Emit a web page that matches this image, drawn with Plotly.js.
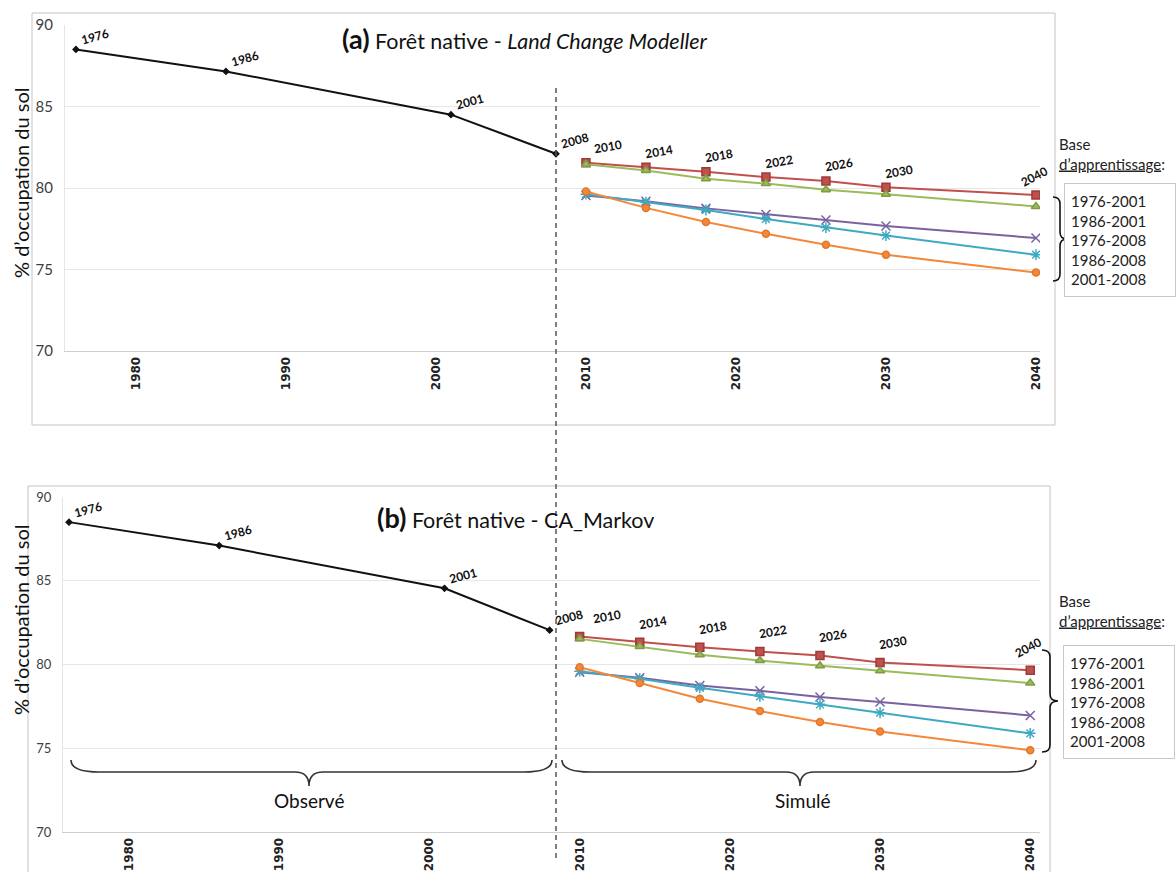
<!DOCTYPE html>
<html>
<head>
<meta charset="utf-8">
<script src="https://cdn.plot.ly/plotly-3.0.1.min.js"></script>
<style>html,body{margin:0;padding:0;background:#fff;}#chart{width:1176px;height:872px;}</style>
</head>
<body>
<div id="chart"></div>
<script>
// ---------------- DATA ----------------
const obsYears = [1976, 1986, 2001, 2008];
const obsA = [88.5, 87.15, 84.5, 82.1];
const obsB = [88.5, 87.1, 84.55, 82.05];

const simYears = [2010, 2014, 2018, 2022, 2026, 2030, 2040];
const seriesNames = ['1976-2001', '1986-2001', '1976-2008', '1986-2008', '2001-2008'];

// Panel (a) – Land Change Modeller
const lcm_1976_2001 = [81.55, 81.28, 81.0, 80.67, 80.43, 80.04, 79.57];
const lcm_1986_2001 = [81.46, 81.08, 80.57, 80.27, 79.9, 79.62, 78.87];
const lcm_1976_2008 = [79.54, 79.19, 78.75, 78.38, 78.04, 77.67, 76.93];
const lcm_1986_2008 = [79.62, 79.13, 78.65, 78.1, 77.57, 77.08, 75.91];
const lcm_2001_2008 = [79.78, 78.78, 77.92, 77.19, 76.52, 75.91, 74.81];

// Panel (b) – CA_Markov
const cam_1976_2001 = [81.67, 81.33, 81.03, 80.77, 80.54, 80.12, 79.66];
const cam_1986_2001 = [81.53, 81.07, 80.58, 80.24, 79.92, 79.62, 78.89];
const cam_1976_2008 = [79.54, 79.21, 78.75, 78.43, 78.06, 77.76, 76.96];
const cam_1986_2008 = [79.6, 79.15, 78.61, 78.1, 77.62, 77.12, 75.89];
const cam_2001_2008 = [79.84, 78.89, 77.96, 77.22, 76.57, 76.0, 74.88];

const xTickVals = [1980, 1990, 2000, 2010, 2020, 2030, 2040];
const yTickVals = [70, 75, 80, 85, 90];

// ---------------- STYLE ----------------
const W = 1176, H = 872;
const px = x => x / W;
const py = y => 1 - y / H;

const seriesStyles = [
  {color: '#C0504D', symbol: 'square', size: 8, mline: '#9c3b38'},
  {color: '#9BBB59', symbol: 'triangle-up', size: 8, mline: '#7f9c45'},
  {color: '#7a62a0', symbol: 'x-thin-open', size: 9, mline: '#7a62a0'},
  {color: '#3fa9c2', symbol: 'asterisk-open', size: 9, mline: '#3fa9c2'},
  {color: '#F4883A', symbol: 'circle', size: 7, mline: '#e0782c'}
];

const simA = [lcm_1976_2001, lcm_1986_2001, lcm_1976_2008, lcm_1986_2008, lcm_2001_2008];
const simB = [cam_1976_2001, cam_1986_2001, cam_1976_2008, cam_1986_2008, cam_2001_2008];

const traces = [];
function addPanel(obs, sims, xa, ya) {
  traces.push({
    x: obsYears, y: obs, xaxis: xa, yaxis: ya, type: 'scatter', mode: 'lines+markers',
    line: {color: '#111', width: 2}, marker: {symbol: 'diamond', size: 6, color: '#111'},
    showlegend: false
  });
  sims.forEach((vals, i) => {
    const s = seriesStyles[i];
    traces.push({
      x: simYears, y: vals, xaxis: xa, yaxis: ya, type: 'scatter', mode: 'lines+markers',
      name: seriesNames[i],
      line: {color: s.color, width: 2},
      marker: {symbol: s.symbol, size: s.size, color: s.color, line: {color: s.mline, width: 1.5}},
      showlegend: false
    });
  });
}
addPanel(obsA, simA, 'x', 'y');
addPanel(obsB, simB, 'x2', 'y2');

const labelFont = {family: 'Lato, sans-serif', size: 12, color: '#111', weight: 'bold'};
const annotations = [];

function pointLabels(obs, red, xref, yref, simDy, firstDx) {
  obsYears.forEach((yr, i) => {
    annotations.push({x: yr, y: obs[i], xref, yref, text: String(yr), showarrow: false,
      xanchor: 'center', yanchor: 'middle',
      xshift: 19, yshift: 13, textangle: -15, font: labelFont});
  });
  simYears.forEach((yr, i) => {
    let xs = 13, ys = simDy, ang = -10;
    if (i === 0) xs = firstDx;
    if (yr === 2040) { xs = -2; ys = simDy + 3; ang = -28; }
    annotations.push({x: yr, y: red[i], xref, yref, text: String(yr), showarrow: false,
      xanchor: 'center', yanchor: 'middle',
      xshift: xs, yshift: ys, textangle: ang, font: labelFont});
  });
}
pointLabels(obsA, lcm_1976_2001, 'x', 'y', 16, 22);
pointLabels(obsB, cam_1976_2001, 'x2', 'y2', 20, 27);

function paperText(x, y, text, font, extra) {
  annotations.push(Object.assign({xref: 'paper', yref: 'paper', x: px(x), y: py(y), showarrow: false,
    xanchor: 'center', yanchor: 'middle', text, font}, extra || {}));
}

// Titles
paperText(525, 39,
  '<span style="font-size:27px;font-weight:bold">(a)</span> Forêt native - <i>Land Change Modeller</i>',
  {family: 'Lato, sans-serif', size: 21.5, color: '#111'});
paperText(515, 517,
  '<span style="font-size:27px;font-weight:bold">(b)</span> Forêt native - CA_Markov',
  {family: 'Lato, sans-serif', size: 21.5, color: '#111'});

// Y axis titles
[183, 620].forEach(yc => {
  paperText(21, yc, '% d’occupation du sol', {family: 'Lato, sans-serif', size: 20, color: '#111'},
    {textangle: -90});
});

// Legends
function legendBlock(baseY, boxTop, boxLeft) {
  paperText(1057, baseY, 'Base<br><span style="text-decoration:underline">d’apprentissage</span>:',
    {family: 'Lato, sans-serif', size: 15, color: '#222'}, {xanchor: 'left', align: 'left'});
  paperText(boxLeft, boxTop, seriesNames.join('<br>'),
    {family: 'Lato, sans-serif', size: 15, color: '#222'},
    {xanchor: 'left', yanchor: 'top', align: 'left', bordercolor: '#c8c8c8', borderwidth: 1,
     borderpad: 6, bgcolor: '#fff', width: 98, height: 100});
}
legendBlock(154, 183, 1064);
legendBlock(611, 645, 1063);

// Observé / Simulé
paperText(309, 800, 'Observé', {family: 'Lato, sans-serif', size: 19, color: '#111'});
paperText(803, 800, 'Simulé', {family: 'Lato, sans-serif', size: 19, color: '#111'});

// Shapes
function P(x, y) { return px(x).toFixed(5) + ',' + py(y).toFixed(5); }
function rightBrace(xl, xr, yt, yb) {
  const xm = (xl + xr) / 2, ym = (yt + yb) / 2, r = 7;
  return 'M' + P(xl, yt) + ' Q' + P(xm, yt) + ' ' + P(xm, yt + r) +
    ' L' + P(xm, ym - r) + ' Q' + P(xm, ym) + ' ' + P(xr, ym) +
    ' Q' + P(xm, ym) + ' ' + P(xm, ym + r) +
    ' L' + P(xm, yb - r) + ' Q' + P(xm, yb) + ' ' + P(xl, yb);
}
function downBrace(x0, x1, xm, yt, ys, yTip) {
  const r = 28, r2 = 14;
  return 'M' + P(x0, yt) + ' Q' + P(x0, ys) + ' ' + P(x0 + r, ys) +
    ' L' + P(xm - r2, ys) + ' Q' + P(xm, ys) + ' ' + P(xm, yTip) +
    ' Q' + P(xm, ys) + ' ' + P(xm + r2, ys) +
    ' L' + P(x1 - r, ys) + ' Q' + P(x1, ys) + ' ' + P(x1, yt);
}

const shapes = [
  {type: 'rect', xref: 'paper', yref: 'paper', x0: px(32), x1: px(1055), y0: py(425), y1: py(13),
    line: {color: '#c4c4c4', width: 1}, layer: 'below'},
  {type: 'rect', xref: 'paper', yref: 'paper', x0: px(28), x1: px(1050), y0: py(900), y1: py(486),
    line: {color: '#c4c4c4', width: 1}, layer: 'below'},
  {type: 'line', xref: 'paper', yref: 'paper', x0: px(556), x1: px(556), y0: py(88), y1: py(862),
    line: {color: '#555', width: 1.5, dash: '5px,4px'}},
  {type: 'path', xref: 'paper', yref: 'paper', path: rightBrace(1053, 1067, 197, 281),
    line: {color: '#111', width: 1.6}},
  {type: 'path', xref: 'paper', yref: 'paper', path: rightBrace(1042, 1058, 650, 752),
    line: {color: '#111', width: 1.6}},
  {type: 'path', xref: 'paper', yref: 'paper', path: downBrace(71, 552, 309, 760, 772, 786),
    line: {color: '#333', width: 1.6}},
  {type: 'path', xref: 'paper', yref: 'paper', path: downBrace(562, 1036, 800, 760, 772, 786),
    line: {color: '#333', width: 1.6}}
];

const xTickFont = {family: 'DejaVu Sans, sans-serif', size: 12, color: '#222', weight: 'bold'};
function xAxis(domain, range, anchor) {
  return {domain, range, anchor, tickvals: xTickVals, ticktext: xTickVals.map(String), tickangle: -90,
    tickfont: xTickFont, showgrid: false, zeroline: false, showline: true, linecolor: '#cfcfcf',
    ticks: '', fixedrange: true};
}
function yAxis(domain, anchor, size) {
  return {domain, range: [70, 90], anchor, tickvals: yTickVals, ticktext: yTickVals.map(String),
    tickfont: {family: 'Lato, sans-serif', size, color: '#404040'},
    showgrid: true, gridcolor: '#e6e6e6', zeroline: false, showline: true, linecolor: '#e6e6e6',
    ticks: '', ticklabelstandoff: 8, fixedrange: true};
}

const layout = {
  width: W, height: H, margin: {l: 0, r: 0, t: 0, b: 0},
  paper_bgcolor: '#fff', plot_bgcolor: 'rgba(0,0,0,0)', showlegend: false,
  xaxis: xAxis([px(65), px(1040)], [1975.27, 2040.27], 'y'),
  yaxis: yAxis([py(351), py(25)], 'x', 15),
  xaxis2: xAxis([px(63), px(1040)], [1975.6, 2040.65], 'y2'),
  yaxis2: yAxis([py(832), py(497)], 'x2', 13),
  annotations, shapes
};

Plotly.newPlot('chart', traces, layout, {staticPlot: true});
</script>
</body>
</html>
